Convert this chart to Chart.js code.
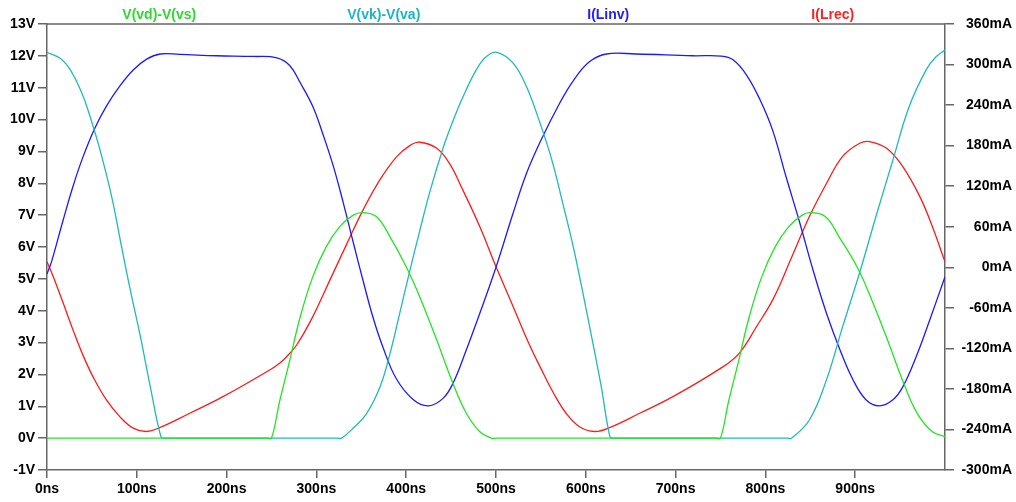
<!DOCTYPE html>
<html>
<head>
<meta charset="utf-8">
<script src="https://cdn.jsdelivr.net/npm/chart.js@4/dist/chart.umd.min.js"></script>
<style>
  html, body { margin: 0; padding: 0; background: #fff; }
  canvas { display: block; }
</style>
</head>
<body>
<canvas id="myChart" width="1016" height="502"></canvas>
<script>
// traces (time in ns)
var vdsTime = [0, 245, 250, 259, 270, 282, 296, 311, 326, 341, 352, 367, 382, 400, 415, 434, 452, 467, 482, 495, 500,
               745, 750, 759, 770, 782, 796, 811, 826, 841, 850, 867, 882, 902, 917, 936, 954, 969, 986, 1000];
var vdsVolts = [0, 0, 0, 1.15, 2.4, 3.81, 5.07, 6.01, 6.64, 7.0, 7.08, 6.95, 6.32, 5.38, 4.44, 3.08, 1.72, 0.78, 0.2, 0, 0,
                0, 0, 1.15, 2.4, 3.81, 5.07, 6.01, 6.64, 7.0, 7.08, 6.95, 6.32, 5.38, 4.44, 3.08, 1.72, 0.78, 0.2, 0.05];

var vkaTime = [0, 15, 26, 39, 48, 59, 72, 83, 92, 104, 115, 127, 131, 136,
               323, 328, 339, 356, 371, 382, 393, 404, 415, 426, 441, 452, 463, 478, 489, 501,
               519, 534, 549, 562, 575, 586, 595, 606, 617, 627, 631, 636,
               824, 829, 849, 868, 886, 905, 923, 942, 960, 979, 990, 1000];
var vkaVolts = [12.11, 11.92, 11.56, 10.82, 10.09, 9.05, 7.58, 6.01, 4.75, 3.19, 1.62, 0.03, 0, 0,
                0, 0, 0.26, 0.78, 1.62, 2.66, 3.95, 5.25, 6.5, 7.7, 9.1, 9.95, 10.7, 11.56, 11.97, 12.11,
                11.77, 11.03, 9.89, 8.75, 7.3, 6.01, 4.8, 3.25, 1.65, 0.03, 0, 0,
                0, 0, 0.57, 1.83, 3.5, 5.2, 6.95, 8.73, 10.4, 11.56, 11.97, 12.18];

var linvTime = [0, 5, 18, 29, 40, 53, 66, 81, 96, 111, 126, 148, 189, 230, 256, 270, 282, 296, 307, 319,
                330, 341, 352, 363, 374, 389, 408, 425, 441, 452, 467, 482, 500, 519, 534, 549, 571, 586, 604, 623,
                656, 719, 751, 764, 779, 794, 808, 823, 838, 853, 868, 883, 897, 912, 927, 942, 953, 968, 983, 1000];
var linvMA = [-10, 8, 70, 120, 163, 205, 238, 268, 292, 308, 315.6, 315, 313, 312, 310, 299, 273, 238, 198, 149,
              95, 37, -20, -74, -118, -165, -196, -205, -194, -172, -122, -68, 0, 80, 139, 185, 243, 276, 304, 315.6,
              315.6, 313, 312.6, 307, 284.5, 248, 203, 134, 67, -4, -68, -122, -165, -196, -205, -196, -177, -132, -78, -14];

var lrecTime = [0, 7, 18, 29, 40, 52, 66, 81, 96, 111, 126, 159, 196, 248, 259, 267, 278, 296, 315, 334,
                352, 371, 389, 404, 415, 434, 448, 463, 482, 500, 519, 538, 549, 564, 578, 593, 610, 627, 660, 697,
                753, 771, 790, 809, 829, 849, 868, 886, 905, 916, 935, 953, 972, 986, 1000];
var lrecMA = [8, -14, -53, -93, -130, -164, -196, -221, -238, -243, -237, -216, -191.5, -152, -142, -132, -115, -73, -19, 35,
              85, 130, 163, 180, 185, 176, 154, 114.5, 60, 1, -58, -117, -147, -186, -216, -236, -243, -237, -216, -191.5,
              -147, -127, -88, -46, 14, 75, 124, 164, 183.5, 186, 176, 149, 104.5, 60, 8];

var traceNames = ['V(vd)-V(vs)', 'V(vk)-V(va)', 'I(Linv)', 'I(Lrec)'];
var traceColors = ['#22e622', '#1fbaba', '#1a1aff', '#ff1a1a'];
var labelColors = ['#2ed82e', '#1cb4c4', '#2020ff', '#ff2020'];

function pts(xs, ys) {
  return xs.map(function (x, i) { return {x: x, y: ys[i]}; });
}

var font = {family: '"Liberation Sans", Arial, sans-serif', size: 14, weight: 'bold'};
var axisGray = '#666666';

// frame top edge + trace names above the plot
var decor = {
  id: 'decor',
  afterDraw: function (chart) {
    var c = chart.ctx, a = chart.chartArea;
    c.save();
    c.strokeStyle = axisGray;
    c.lineWidth = 1.5;
    c.beginPath();
    c.moveTo(a.left, a.top);
    c.lineTo(a.right, a.top);
    c.stroke();
    c.font = 'bold 14px "Liberation Sans", Arial, sans-serif';
    c.textAlign = 'center';
    c.textBaseline = 'alphabetic';
    var w = (a.right - a.left) / 4;
    for (var i = 0; i < 4; i++) {
      c.fillStyle = labelColors[i];
      c.fillText(traceNames[i], a.left + (i + 0.5) * w, 19);
    }
    c.restore();
  }
};

var ctx = document.getElementById('myChart').getContext('2d');
var myChart = new Chart(ctx, {
  type: 'line',
  data: {
    datasets: [{
        data: pts(vdsTime, vdsVolts),
        label: traceNames[0],
        borderColor: traceColors[0],
        yAxisID: 'yV'
      }, {
        data: pts(vkaTime, vkaVolts),
        label: traceNames[1],
        borderColor: traceColors[1],
        yAxisID: 'yV'
      }, {
        data: pts(linvTime, linvMA),
        label: traceNames[2],
        borderColor: traceColors[2],
        yAxisID: 'yI'
      }, {
        data: pts(lrecTime, lrecMA),
        label: traceNames[3],
        borderColor: traceColors[3],
        yAxisID: 'yI'
      }
    ]
  },
  options: {
    responsive: false,
    animation: false,
    layout: {padding: {top: 24, right: 4}},
    elements: {
      point: {radius: 0},
      line: {borderWidth: 1.3, tension: 0.4, fill: false}
    },
    plugins: {
      legend: {display: false},
      tooltip: {enabled: false}
    },
    scales: {
      x: {
        type: 'linear',
        min: 0,
        max: 1000,
        afterFit: function (s) { s.height = 32; },
        afterBuildTicks: function (s) { s.ticks = s.ticks.filter(function (t) { return t.value < 1000; }); },
        ticks: {
          stepSize: 100,
          autoSkip: false,
          maxRotation: 0,
          padding: 3,
          color: '#000',
          font: font,
          callback: function (v) { return v + 'ns'; }
        },
        grid: {drawOnChartArea: false, tickLength: 8, color: axisGray, lineWidth: 1.5},
        border: {color: axisGray, width: 1.5}
      },
      yV: {
        position: 'left',
        min: -1,
        max: 13,
        afterFit: function (s) { s.width = 47; },
        ticks: {
          stepSize: 1,
          padding: 3,
          color: '#000',
          font: font,
          callback: function (v) { return v + 'V'; }
        },
        grid: {drawOnChartArea: false, tickLength: 9, color: axisGray, lineWidth: 1.5},
        border: {color: axisGray, width: 1.5}
      },
      yI: {
        position: 'right',
        min: -300,
        max: 360,
        afterFit: function (s) { s.width = 67; },
        ticks: {
          stepSize: 60,
          padding: 3,
          crossAlign: 'far',
          color: '#000',
          font: font,
          callback: function (v) { return v + 'mA'; }
        },
        grid: {drawOnChartArea: false, tickLength: 9, color: axisGray, lineWidth: 1.5},
        border: {color: axisGray, width: 1.5}
      }
    }
  },
  plugins: [decor]
});
</script>
</body>
</html>
